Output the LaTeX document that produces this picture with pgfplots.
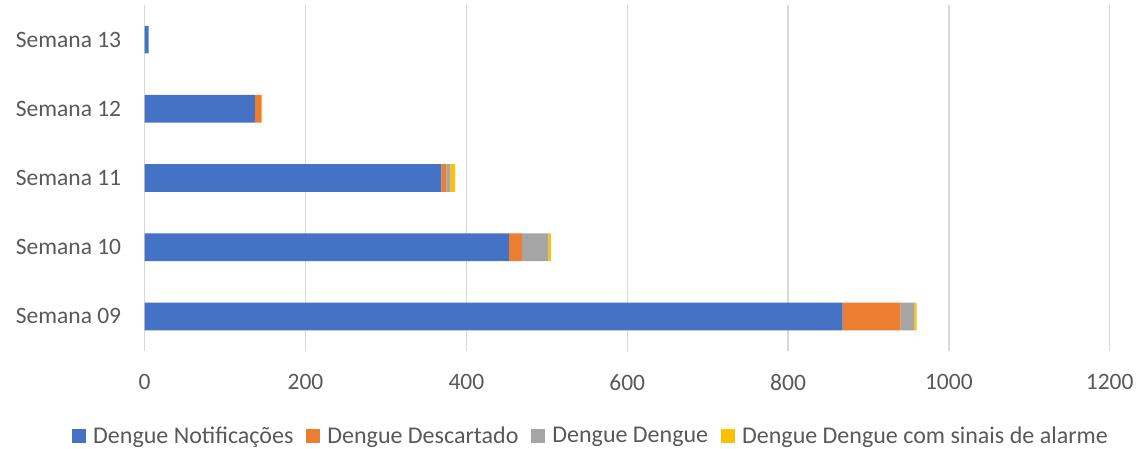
\documentclass[border=0pt]{standalone}
\usepackage{pgfplots}
\pgfplotsset{compat=1.18}
\usepackage{fontspec}
\setmainfont{Carlito}
\definecolor{cBlue}{HTML}{4472C4}
\definecolor{cOrange}{HTML}{ED7D31}
\definecolor{cGray}{HTML}{A5A5A5}
\definecolor{cYellow}{HTML}{FFC000}
\definecolor{cText}{HTML}{595959}
\definecolor{cGrid}{HTML}{D9D9D9}
\begin{document}
\begin{tikzpicture}
\path[use as bounding box] (-144.7pt,-97pt) rectangle (993.3pt,351pt);
\begin{axis}[
  at={(0,0)}, anchor=south west,
  scale only axis, width=965pt, height=346pt,
  xbar stacked, bar width=27.7pt,
  xmin=0, xmax=1200, ymin=-0.5, ymax=4.5,
  xtick={0,200,...,1200},
  ytick={0,1,2,3,4},
  yticklabels={Semana 09,Semana 10,Semana 11,Semana 12,Semana 13},
  xmajorgrids, major grid style={cGrid, line width=1.3pt},
  axis line style={draw=none},
  major tick length=0pt,
  tick label style={font=\fontsize{23.5}{28}\selectfont, text=cText},
  /pgf/number format/assume math mode=true,
  /pgf/number format/1000 sep={},
  xticklabel style={yshift=-20pt},
  yticklabel style={xshift=-20pt},
  legend style={at={(0.4625,-0.2457)}, anchor=center, draw=none,
    font=\fontsize{24}{28}\selectfont, text=cText, legend columns=-1,
    /tikz/every even column/.append style={column sep=11pt},
    inner sep=0pt},
  legend image code/.code={\fill[#1] (0pt,-7pt) rectangle (14pt,7pt);},
  legend cell align=left,
]
\addplot[fill=cBlue, draw=none] coordinates {(868,0) (453,1) (369,2) (137,3) (5,4)};
\addplot[fill=cOrange, draw=none] coordinates {(72,0) (16,1) (6,2) (8,3) (0,4)};
\addplot[fill=cGray, draw=none] coordinates {(17,0) (33,1) (5,2) (0,3) (0,4)};
\addplot[fill=cYellow, draw=none] coordinates {(3,0) (3,1) (6,2) (1,3) (0,4)};
\legend{\hspace{5pt}Dengue Notificações,\hspace{5pt}Dengue Descartado,\hspace{5pt}Dengue Dengue,\hspace{5pt}Dengue Dengue com sinais de alarme}
\end{axis}
\end{tikzpicture}
\end{document}
